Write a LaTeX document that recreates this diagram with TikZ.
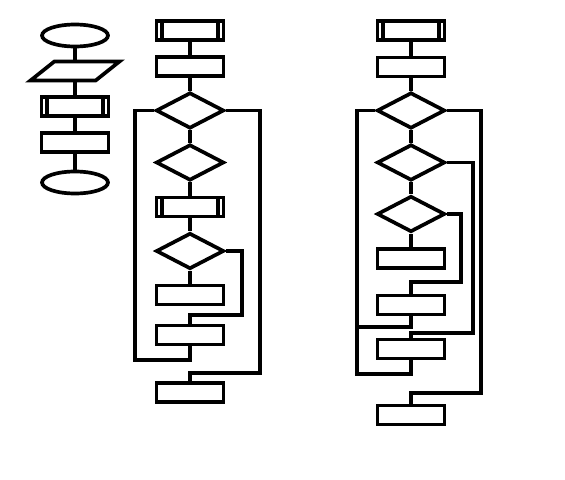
\documentclass[tikz,border=0pt]{standalone}
\usetikzlibrary{shapes.geometric}
\begin{document}
\begin{tikzpicture}[x=0.02cm, y=-0.02cm, line width=2.1pt,
  proc/.style={draw, rectangle, inner sep=0, minimum width=1.34cm, minimum height=0.38cm},
  subproc/.style={proc, path picture={
    \draw[line width=2.1pt] ([xshift=0.11cm]path picture bounding box.north west) -- ([xshift=0.11cm]path picture bounding box.south west);
    \draw[line width=2.1pt] ([xshift=-0.11cm]path picture bounding box.north east) -- ([xshift=-0.11cm]path picture bounding box.south east);}},
  cond/.style={draw, diamond, inner sep=0, minimum width=1.36cm, minimum height=0.72cm},
  term/.style={draw, ellipse, inner sep=0, minimum width=1.32cm, minimum height=0.44cm},
  io/.style={draw, trapezium, trapezium stretches=true, trapezium left angle=60, trapezium right angle=120, inner sep=1pt, minimum width=1.78cm, minimum height=0.38cm}]
\useasboundingbox (0,0) rectangle (565,480);

\node[term] (start) at (75,35.5) {};
\node[io] (input) at (75,71) {};
\node[subproc] (sub) at (75,106.5) {};
\node[proc] (act) at (75,142.5) {};
\node[term] (stop) at (75,182.5) {};
\draw (start) -- (input) -- (sub) -- (act) -- (stop);

\node[subproc] (m1) at (190,30.5) {};
\node[proc] (m2) at (190,66.5) {};
\node[cond] (mc1) at (190,110.5) {};
\node[cond] (mc2) at (190,162.5) {};
\node[subproc] (m3) at (190,207) {};
\node[cond] (mc3) at (190,251) {};
\node[proc] (m4) at (190,295) {};
\node[proc] (m5) at (190,335) {};
\node[proc] (m6) at (190,392.5) {};
\coordinate (mj1) at (242,315);
\coordinate (mj2) at (135,360);
\coordinate (mj3) at (260,373);
\draw (m1) -- (m2) -- (mc1) -- (mc2) -- (m3) -- (mc3) -- (m4);
\draw (mc3.east) -| (mj1) -| (m5.north);
\draw (m5.south) |- (mj2) |- (mc1.west);
\draw (mc1.east) -| (mj3) -| (m6.north);

\node[subproc] (n1) at (411,30.5) {};
\node[proc] (n2) at (411,67) {};
\node[cond] (nc1) at (411,110.5) {};
\node[cond] (nc2) at (411,162.5) {};
\node[cond] (nc3) at (411,214) {};
\node[proc] (n3) at (411,258.5) {};
\node[proc] (n4) at (411,305) {};
\node[proc] (n5) at (411,349) {};
\node[proc] (n6) at (411,415) {};
\coordinate (nj1) at (461,282);
\coordinate (nj2) at (357,327);
\coordinate (nj3) at (473,333);
\coordinate (nj4) at (357,374);
\coordinate (nj5) at (481,393);
\draw (n1) -- (n2) -- (nc1) -- (nc2) -- (nc3) -- (n3);
\draw (nc3.east) -| (nj1) -| (n4.north);
\draw (n4.south) |- (nj2);
\draw (nc2.east) -| (nj3) -| (n5.north);
\draw (n5.south) |- (nj4) |- (nc1.west);
\draw (nc1.east) -| (nj5) -| (n6.north);
\end{tikzpicture}
\end{document}
